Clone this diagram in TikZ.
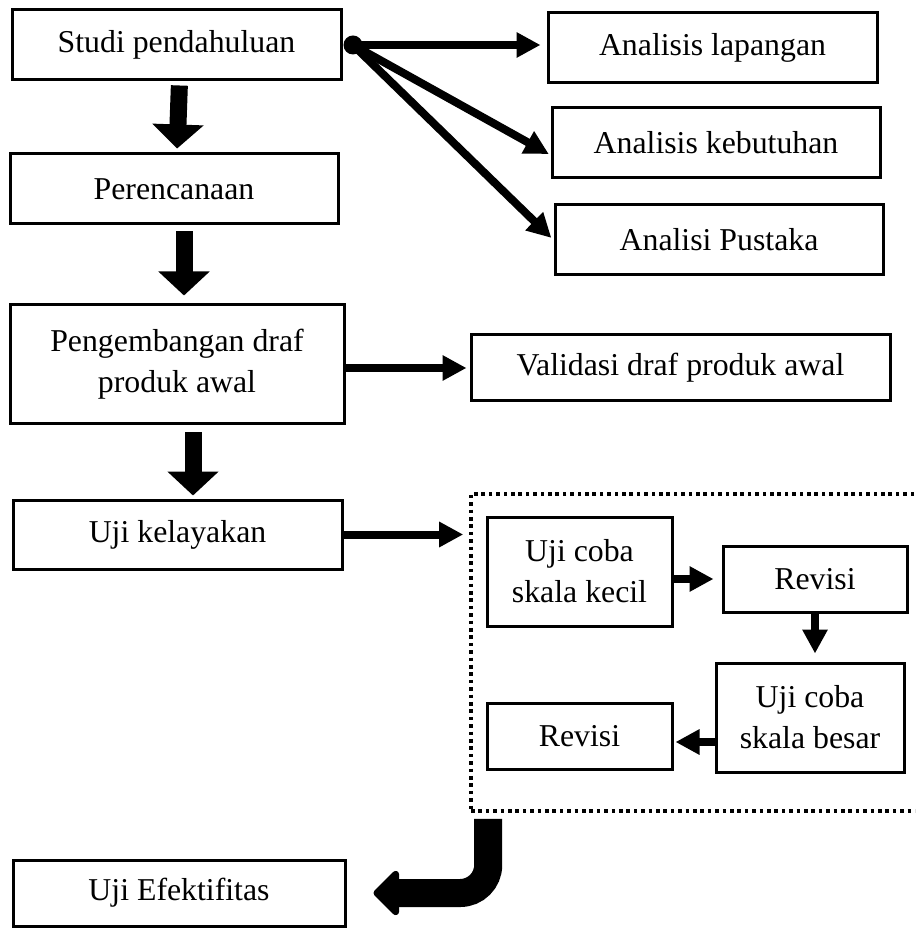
\documentclass[tikz,border=0pt]{standalone}
\usepackage{fontspec}
\setmainfont{Liberation Serif}
\usetikzlibrary{arrows.meta, fit, calc}

\begin{document}
\begin{tikzpicture}[x=0.5pt, y=-0.5pt,
        tahap/.style={rectangle, draw=black, line width=1.5pt, fill=white, align=center, inner sep=0pt, font=\fontsize{15.9}{20.5}\selectfont},
        titik/.style={circle, fill=black, inner sep=0pt, minimum size=9.5pt},
        kotaktitik/.style={rectangle, draw=black, line width=1.8pt, dash pattern=on 1.8pt off 1.9pt, inner sep=0pt},
        panah/.style={draw=black, line width=4pt, -{Triangle[length=12pt, width=12pt]}},
        panahblok/.style={draw=black, line width=8.5pt, -{Triangle[length=12pt, width=25pt]}},
        panahbelok/.style={draw=black, line width=14pt, rounded corners=14pt, -{Triangle[round, length=13.5pt, width=26pt]}}]

        \useasboundingbox (0,0) rectangle (915,929);
        \clip (0,0) rectangle (915,929);

        \node [tahap, minimum width=164.5pt, minimum height=35pt] (studi) at (176.5,45) {Studi pendahuluan};
        \node [tahap, minimum width=164pt, minimum height=35pt] (rencana) at (174,189) {Perencanaan};
        \node [tahap, minimum width=167pt, minimum height=59.5pt] (kembang) at (177,364.5) {Pengembangan draf\\produk awal};
        \node [tahap, minimum width=164.5pt, minimum height=34.5pt] (layak) at (177.5,534.5) {Uji kelayakan};
        \node [tahap, minimum width=166pt, minimum height=33pt] (efektif) at (179,893) {Uji Efektifitas};

        \node [titik] (cabang) at (353,45) {};
        \node [tahap, minimum width=164.5pt, minimum height=35pt] (lapangan) at (712.5,48) {Analisis lapangan};
        \node [tahap, minimum width=164pt, minimum height=35pt] (butuh) at (716,143) {Analisis kebutuhan};
        \node [tahap, minimum width=164pt, minimum height=35pt] (pustaka) at (719,240) {Analisi Pustaka};
        \node [tahap, minimum width=209.5pt, minimum height=33pt] (validasi) at (680.5,368) {Validasi draf produk awal};

        % uji coba
        \node [kotaktitik, fit={(471,494) (930,811)}] (ujicoba) {};
        \node [tahap, minimum width=92.5pt, minimum height=54.5pt] (kecil) at (579.5,571.5) {Uji coba\\skala kecil};
        \node [tahap, minimum width=92pt, minimum height=33pt] (revisisatu) at (815,579) {Revisi};
        \node [tahap, minimum width=94pt, minimum height=54.5pt] (besar) at (810,717.5) {Uji coba\\skala besar};
        \node [tahap, minimum width=92.5pt, minimum height=33pt] (revisidua) at (579.5,736) {Revisi};

        \path [panahblok, shorten <=2pt, shorten >=2pt] ([xshift=1.5pt]studi.south) -- ([xshift=1.5pt]rencana.north);
        \path [panahblok, shorten <=3pt, shorten >=4pt] ([xshift=5pt]rencana.south) -- ([xshift=5pt]rencana.south |- kembang.north);
        \path [panahblok, shorten <=3.5pt, shorten >=1.5pt] ([xshift=8pt]kembang.south) -- ([xshift=8pt]kembang.south |- layak.north);

        \path [panah, shorten >=3pt] (cabang.center) -- (cabang.center -| lapangan.west);
        \path [panah, shorten >=1pt] (cabang.center) -- ([yshift=-6pt]butuh.west);
        \path [panah, shorten >=1.5pt] (cabang.center) -- (pustaka.west);

        \path [panah, shorten >=1.5pt] (kembang.east |- validasi) -- (validasi.west);
        \path [panah, shorten >=3pt] (layak.east) -- (layak.east -| ujicoba.west);

        \path [panah, shorten >=4pt] (kecil.east |- revisisatu) -- (revisisatu.west);
        \path [panah, shorten >=4pt] (revisisatu.south) -- (revisisatu.south |- besar.north);
        \path [panah, shorten >=1pt] ([yshift=-3pt]revisidua.east -| besar.west) -- ([yshift=-3pt]revisidua.east);

        \path [panahbelok, shorten >=13.5pt] ([shift={(9.5pt,-3pt)}]ujicoba.south west) |- (efektif.east);
\end{tikzpicture}
\end{document}
